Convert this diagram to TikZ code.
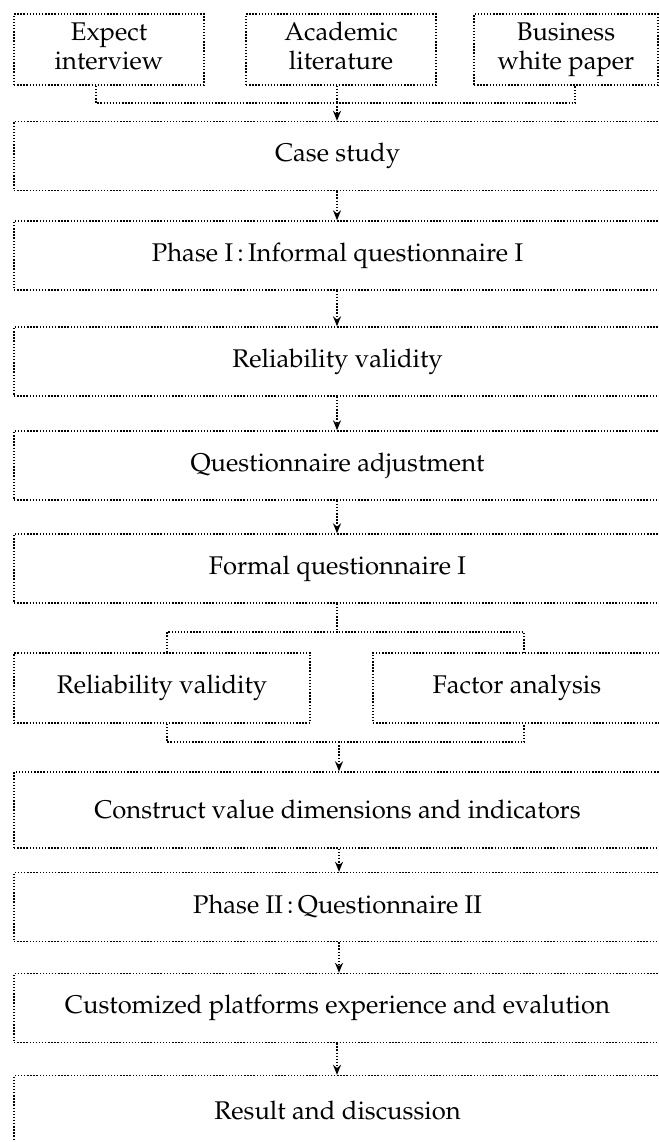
\documentclass[tikz,border=0pt]{standalone}
\usepackage[T1]{fontenc}
\usepackage{mathpazo}
\usepackage{tikz}
\usetikzlibrary{arrows.meta}
\newcommand{\twolines}[2]{#1\strut\\#2\strut}
\tikzset{
  dotline/.style={line width=0.7pt, dash pattern=on 0.7pt off 0.85pt},
  stepbox/.style={dotline, draw, inner sep=0pt, align=center,
    font=\fontsize{12.8pt}{14.5pt}\selectfont},
  widebox/.style={stepbox, minimum width=323.5pt, minimum height=34.5pt},
  link/.style={dotline},
  linkarrow/.style={dotline, -{Stealth[length=5pt,width=4pt]}}
}

\begin{document}
\begin{tikzpicture}[x=0.5pt,y=-0.5pt]
	%%%%% START %%%%%
	\clip (0,0) rectangle (659,1142);
	
	% sources
	\node[stepbox, minimum width=95pt, minimum height=35.5pt] (expint) at (109,49.5) {\twolines{Expect}{interview}};
	\node[stepbox, minimum width=95pt, minimum height=35.5pt] (acalit) at (341,49.5) {\twolines{Academic}{literature}};
	\node[stepbox, minimum width=92pt, minimum height=35.5pt] (buswp) at (566,49.5) {\twolines{Business}{white paper}};
	
	% main column
	\node[widebox] (casestudy) at (337.5,156) {Case study};
	\node[widebox] (phaseone) at (337.5,255.5) {Phase I\,:\,Informal questionnaire I};
	\node[widebox] (relval) at (337.5,361.5) {Reliability validity};
	\node[widebox] (qadjust) at (337.5,465.5) {Questionnaire adjustment};
	\node[widebox] (formalq) at (337.5,568.5) {Formal questionnaire I};
	
	\node[stepbox, minimum width=148pt, minimum height=35pt] (relvaltwo) at (162,688) {Reliability validity};
	\node[stepbox, minimum width=144pt, minimum height=35pt] (factor) at (517,688) {Factor analysis};
	
	\node[widebox, minimum height=38pt] (construct) at (337.5,810) {Construct value dimensions and indicators};
	\node[widebox] (phasetwo) at (337.5,907) {Phase II\,:\,Questionnaire II};
	\node[widebox] (custom) at (337.5,1008) {Customized platforms experience and evalution};
	\node[widebox] (result) at (337.5,1110) {Result and discussion};
	
	% joins
	\coordinate (jtop) at (337,103);
	\coordinate (jsplit) at (337,632);
	\coordinate (jmerge) at (339,742);
	
	\draw[link] ([xshift=-6.5pt]expint.south) |- (jtop) -| ([xshift=4.5pt]buswp.south);
	\draw[link] (acalit.south -| jtop) -- (jtop);
	\draw[linkarrow] (jtop) -- (casestudy.north -| jtop);
	
	\draw[linkarrow] (casestudy.south -| jtop) -- (phaseone.north -| jtop);
	\draw[linkarrow] (phaseone.south -| jtop) -- (relval.north -| jtop);
	\draw[linkarrow] (relval.south -| jtop) -- (qadjust.north -| jtop);
	\draw[linkarrow] (qadjust.south -| jtop) -- (formalq.north -| jtop);
	
	\draw[link] (formalq.south -| jsplit) -- (jsplit);
	\draw[link] ([xshift=2.5pt]relvaltwo.north) |- (jsplit) -| ([xshift=3.5pt]factor.north);
	\draw[link] ([xshift=2.5pt]relvaltwo.south) |- (jmerge) -| ([xshift=3.5pt]factor.south);
	\draw[linkarrow] (jmerge) -- (construct.north -| jmerge);
	
	\draw[linkarrow] (construct.south -| jmerge) -- (phasetwo.north -| jmerge);
	\draw[linkarrow] (phasetwo.south -| jmerge) -- (custom.north -| jmerge);
	\draw[linkarrow] (custom.south -| jtop) -- (result.north -| jtop);
	
	%%%%% END %%%%%
\end{tikzpicture}
\end{document}
